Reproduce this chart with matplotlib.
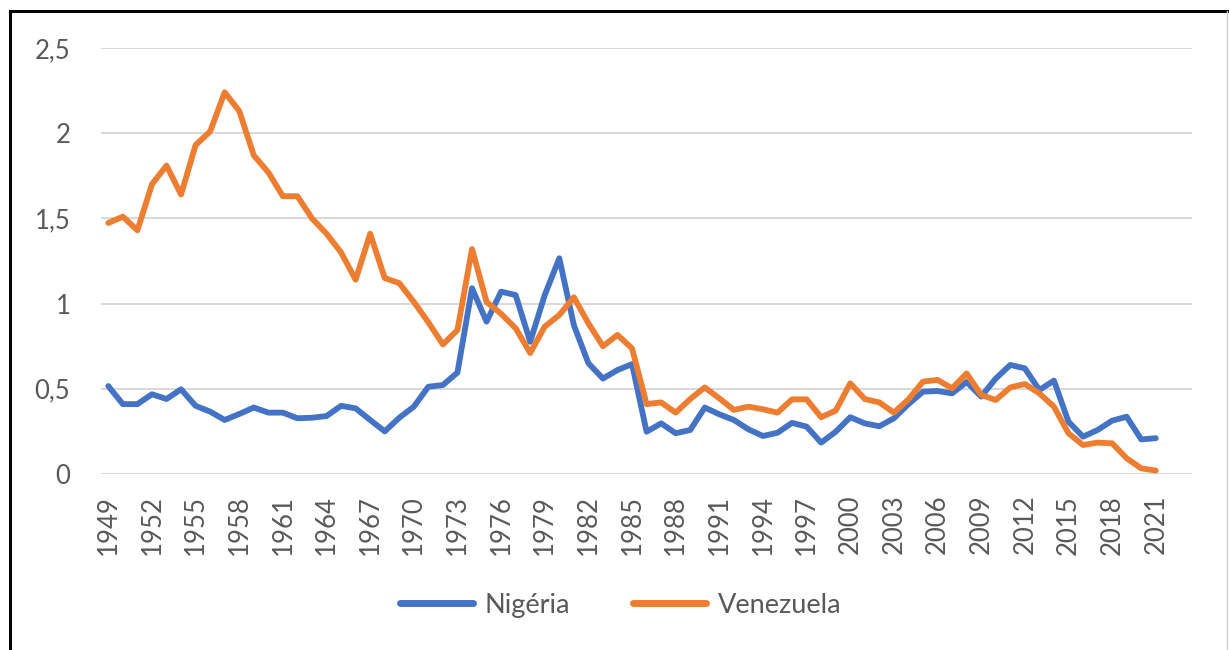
import matplotlib
matplotlib.use("Agg")
import matplotlib.pyplot as plt
from matplotlib.lines import Line2D
from matplotlib.ticker import FuncFormatter

plt.rcParams["font.family"] = ["Lato", "DejaVu Sans"]

YEARS = list(range(1949, 2022))

NIGERIA = [
    0.516, 0.41, 0.41, 0.468, 0.44, 0.497, 0.40, 0.366, 0.317, 0.352,  # 1949-58
    0.39, 0.36, 0.36, 0.327, 0.33, 0.34, 0.40, 0.385, 0.317, 0.250,   # 1959-68
    0.33, 0.395, 0.512, 0.522, 0.595, 1.09, 0.894, 1.07, 1.05, 0.776,  # 1969-78
    1.05, 1.266, 0.874, 0.65, 0.56, 0.61, 0.645, 0.248, 0.297, 0.239,  # 1979-88
    0.258, 0.39, 0.35, 0.317, 0.262, 0.223, 0.242, 0.30, 0.278, 0.184, # 1989-98
    0.248, 0.333, 0.297, 0.28, 0.327, 0.41, 0.483, 0.487, 0.473, 0.54, # 1999-2008
    0.454, 0.56, 0.64, 0.62, 0.493, 0.548, 0.307, 0.219, 0.258, 0.313, # 2009-18
    0.336, 0.203, 0.21,                                                # 2019-21
]

VENEZUELA = [
    1.473, 1.51, 1.43, 1.70, 1.81, 1.64, 1.93, 2.01, 2.24, 2.13,       # 1949-58
    1.87, 1.77, 1.63, 1.63, 1.50, 1.41, 1.30, 1.14, 1.41, 1.15,        # 1959-68
    1.12, 1.01, 0.89, 0.76, 0.845, 1.32, 1.01, 0.94, 0.855, 0.71,      # 1969-78
    0.865, 0.933, 1.037, 0.884, 0.75, 0.816, 0.737, 0.41, 0.42, 0.36,  # 1979-88
    0.44, 0.508, 0.444, 0.376, 0.395, 0.38, 0.36, 0.438, 0.438, 0.333, # 1989-98
    0.372, 0.532, 0.44, 0.42, 0.36, 0.438, 0.542, 0.552, 0.503, 0.59,  # 1999-2008
    0.464, 0.434, 0.508, 0.528, 0.473, 0.395, 0.239, 0.17, 0.184, 0.18,# 2009-18
    0.092, 0.033, 0.02,                                                # 2019-21
]

BLUE = "#4472C4"
ORANGE = "#ED7D31"
TEXT = "#595959"
GRID = "#D9D9D9"


def main():
    fig = plt.figure(figsize=(12.29, 6.5), dpi=100)
    ax = fig.add_axes([0.0822, 0.2708, 0.8878, 0.6554])

    ax.plot(YEARS, NIGERIA, color=BLUE, lw=4.2, solid_capstyle="round",
            solid_joinstyle="round", label="Nigéria", zorder=3)
    ax.plot(YEARS, VENEZUELA, color=ORANGE, lw=4.2, solid_capstyle="round",
            solid_joinstyle="round", label="Venezuela", zorder=4)

    ax.set_xlim(1948.5, 2023.5)
    ax.set_ylim(0, 2.5)
    ax.set_yticks([0, 0.5, 1, 1.5, 2, 2.5])
    ax.yaxis.set_major_formatter(FuncFormatter(
        lambda v, _: (f"{v:g}").replace(".", ",")))
    ax.set_xticks(YEARS[::3])
    ax.set_xticklabels([str(y) for y in YEARS[::3]], rotation=90)

    ax.grid(axis="y", color=GRID, lw=1.5, zorder=0)
    for s in ax.spines.values():
        s.set_visible(False)
    ax.tick_params(axis="both", length=0, labelsize=18.5, colors=TEXT)
    ax.tick_params(axis="y", pad=22)
    ax.tick_params(axis="x", pad=15)

    handles = [Line2D([0], [0], color=BLUE, lw=5, solid_capstyle="round"),
               Line2D([0], [0], color=ORANGE, lw=5, solid_capstyle="round")]
    leg = fig.legend(handles, ["Nigéria", "Venezuela"], loc="center",
                     bbox_to_anchor=(0.505, 0.069), ncol=2, frameon=False,
                     fontsize=19.5, handlelength=2.7, columnspacing=2.3,
                     handletextpad=0.45)
    for t in leg.get_texts():
        t.set_color(TEXT)

    # chart-area border
    fig.add_artist(Line2D([0.0085, 0.0085], [0, 0.983], color="black", lw=2.2,
                          transform=fig.transFigure))
    fig.add_artist(Line2D([0.0085, 1.0], [0.983, 0.983], color="black", lw=2.2,
                          transform=fig.transFigure))
    fig.add_artist(Line2D([0.9985, 0.9985], [0, 0.983], color="#D0D0D0", lw=1.0,
                          transform=fig.transFigure))

    fig.savefig("out.png", dpi=100, facecolor="white")


if __name__ == "__main__":
    main()
